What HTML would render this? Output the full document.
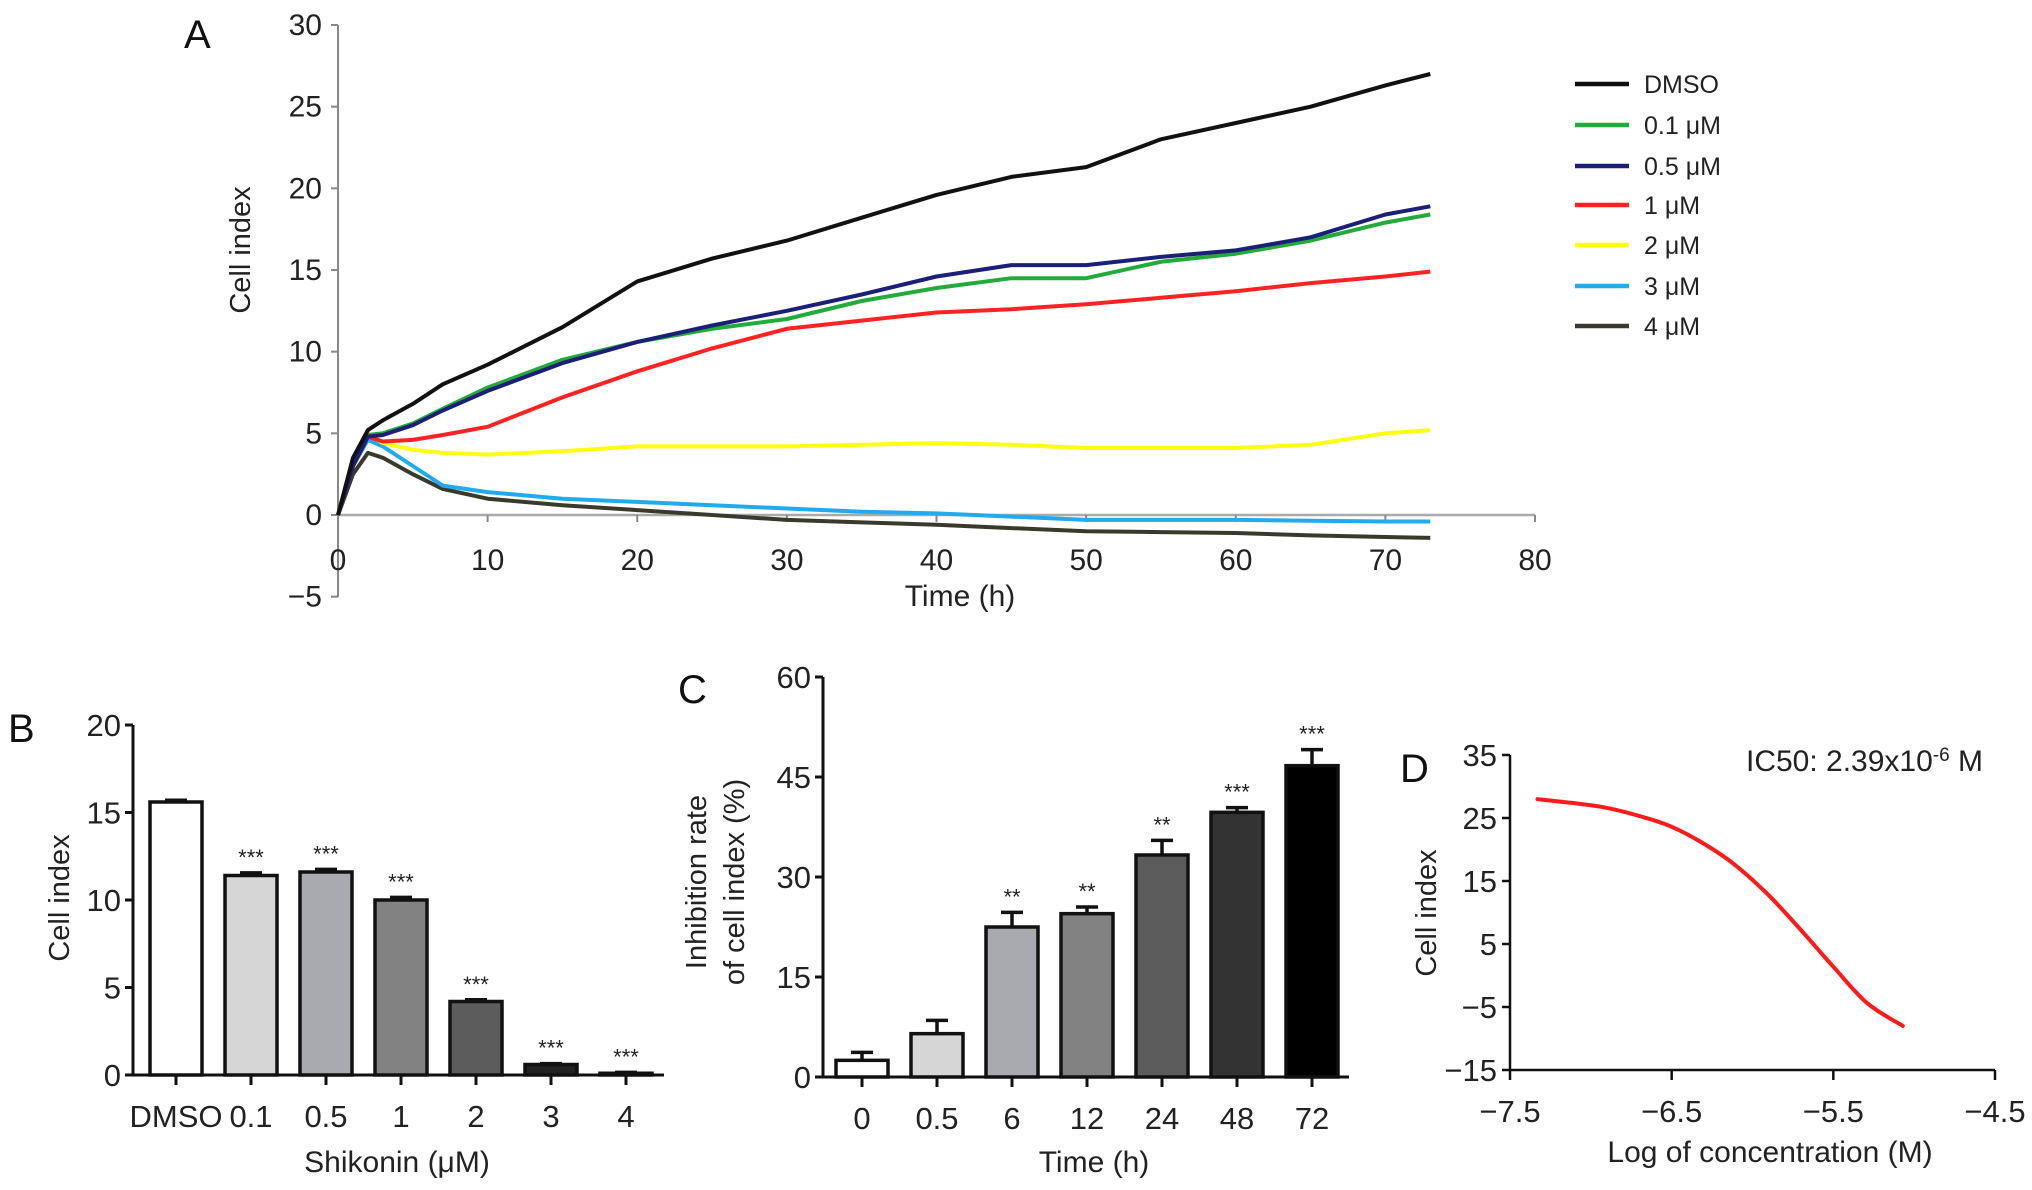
<!DOCTYPE html>
<html><head><meta charset="utf-8"><style>
html,body{margin:0;padding:0;background:#fff;}
svg{display:block;font-family:"Liberation Sans Narrow","Liberation Sans",sans-serif;}
.arial{font-family:"Liberation Sans",sans-serif;}
</style></head><body>
<svg id="fig" width="2032" height="1190" viewBox="0 0 2032 1190" xmlns="http://www.w3.org/2000/svg"></svg>
<script>
// ---- Panel A data ----
const timesA = [0,1,2,3,5,7,10,15,20,25,30,35,40,45,50,55,60,65,70,73];
const seriesNames = ["DMSO","0.1 \u03bcM","0.5 \u03bcM","1 \u03bcM","2 \u03bcM","3 \u03bcM","4 \u03bcM"];
const dmsoVals = [0,3.5,5.2,5.8,6.8,8.0,9.2,11.5,14.3,15.7,16.8,18.2,19.6,20.7,21.3,23.0,24.0,25.0,26.3,27.0];
const v01Vals  = [0,3.2,4.9,5.0,5.6,6.5,7.8,9.5,10.6,11.4,12.0,13.1,13.9,14.5,14.5,15.5,16.0,16.8,17.9,18.4];
const v05Vals  = [0,3.0,4.8,4.9,5.5,6.4,7.6,9.3,10.6,11.6,12.5,13.5,14.6,15.3,15.3,15.8,16.2,17.0,18.4,18.9];
const v1Vals   = [0,3.0,4.8,4.5,4.6,4.9,5.4,7.2,8.8,10.2,11.4,11.9,12.4,12.6,12.9,13.3,13.7,14.2,14.6,14.9];
const v2Vals   = [0,3.2,5.0,4.4,4.0,3.8,3.7,3.9,4.2,4.2,4.2,4.3,4.4,4.3,4.1,4.1,4.1,4.3,5.0,5.2];
const v3Vals   = [0,3.0,4.6,4.2,3.0,1.8,1.4,1.0,0.8,0.6,0.4,0.2,0.1,-0.1,-0.3,-0.3,-0.3,-0.35,-0.4,-0.4];
const v4Vals   = [0,2.5,3.8,3.5,2.5,1.6,1.0,0.6,0.3,0.0,-0.3,-0.45,-0.6,-0.8,-1.0,-1.05,-1.1,-1.25,-1.35,-1.4];
const seriesColors = ["#111111","#22aa3a","#1c1f78","#ff2222","#ffff10","#22aaee","#3a3a2c"];
const xTicksA = [0,10,20,30,40,50,60,70,80];
const yTicksA = [-5,0,5,10,15,20,25,30];
// ---- Panel B data ----
const catsB = ["DMSO","0.1","0.5","1","2","3","4"];
const valsB = [15.6,11.4,11.6,10.0,4.2,0.6,0.1];
const errB = [0.1,0.15,0.15,0.15,0.1,0.05,0.05];
const starsB = ["","***","***","***","***","***","***"];
const fillsB = ["#ffffff","#d6d6d6","#a9a9b0","#828282","#5c5c5c","#222222","#000000"];
const yTicksB = [0,5,10,15,20];
// ---- Panel C data ----
const catsC = ["0","0.5","6","12","24","48","72"];
const valsC = [2.5,6.5,22.5,24.5,33.3,39.7,46.7];
const errC = [1.2,2.0,2.2,1.0,2.2,0.7,2.4];
const starsC = ["","","**","**","**","***","***"];
const fillsC = ["#ffffff","#d6d6d6","#a9a9b0","#828282","#5c5c5c","#333333","#000000"];
const yTicksC = [0,15,30,45,60];
// ---- Panel D data ----
const logConc = [-7.33,-6.94,-6.67,-6.5,-6.32,-6.12,-5.91,-5.7,-5.5,-5.29,-5.07];
const ciD = [28.0,26.8,25.1,23.6,21.2,17.8,13.0,7.2,1.4,-4.4,-8.0];
const xTicksD = [-7.5,-6.5,-5.5,-4.5];
const yTicksD = [-15,-5,5,15,25,35];

const NS="http://www.w3.org/2000/svg";
const svg=document.getElementById('fig');
function mk(tag,attrs,parent,text){const e=document.createElementNS(NS,tag);for(const k in attrs)e.setAttribute(k,attrs[k]);if(text!==undefined)e.textContent=text;(parent||svg).appendChild(e);return e;}
function fmt(v){return v<0?"\u2212"+Math.abs(v):String(v);}
function smooth(pts){let d='M'+pts[0][0].toFixed(1)+','+pts[0][1].toFixed(1);
 for(let i=0;i<pts.length-1;i++){const p0=pts[i-1]||pts[i],p1=pts[i],p2=pts[i+1],p3=pts[i+2]||p2;
  const c1=[p1[0]+(p2[0]-p0[0])/6,p1[1]+(p2[1]-p0[1])/6],c2=[p2[0]-(p3[0]-p1[0])/6,p2[1]-(p3[1]-p1[1])/6];
  d+=' C'+c1[0].toFixed(1)+','+c1[1].toFixed(1)+' '+c2[0].toFixed(1)+','+c2[1].toFixed(1)+' '+p2[0].toFixed(1)+','+p2[1].toFixed(1);}
 return d;}

// ===== Panel A =====
const gA=mk('g',{});  
const xA=t=>338+(t-0)/80*(1535-338);
const yA=v=>515-(v-0)/30*(515-25);
let l=mk('line',{x1:338,y1:25,x2:338,y2:597,stroke:'#888','stroke-width':2},gA);
 
l=mk('line',{x1:338,y1:515,x2:1535,y2:515,stroke:'#aaa','stroke-width':2.5},gA);
 
yTicksA.forEach(v=>{mk('line',{x1:331,y1:yA(v),x2:338,y2:yA(v),stroke:'#888','stroke-width':2},gA);
 const t=mk('text',{x:322,y:yA(v)+10,'text-anchor':'end','font-size':30,fill:'#222'},gA,fmt(v));
  });
xTicksA.forEach(v=>{mk('line',{x1:xA(v),y1:515,x2:xA(v),y2:522,stroke:'#888','stroke-width':2},gA);
 const t=mk('text',{x:xA(v),y:570,'text-anchor':'middle','font-size':30,fill:'#222'},gA,String(v));
  });
let tt=mk('text',{x:960,y:606,'text-anchor':'middle','font-size':30,fill:'#222'},gA,'Time (h)');
 
tt=mk('text',{x:0,y:0,'text-anchor':'middle','font-size':29,fill:'#222',class:'arial',transform:'translate(250,250) rotate(-90)'},gA,'Cell index');
 
tt=mk('text',{x:184,y:48,'font-size':40,fill:'#111',class:'arial'},gA,'A');
 
const allSeries=[dmsoVals,v01Vals,v05Vals,v1Vals,v2Vals,v3Vals,v4Vals];
[6,5,4,3,1,2,0].forEach(i=>{
 const d=allSeries[i].map((v,j)=>(j?'L':'M')+xA(timesA[j]).toFixed(1)+','+yA(v).toFixed(1)).join(' ');
 const p=mk('path',{d:d,fill:'none',stroke:seriesColors[i],'stroke-width':4,'stroke-linejoin':'round'},gA);
 
 
});
const legY=[84,125,166,205,245,286,326];
seriesNames.forEach((n,i)=>{
 const g=mk('g',{},gA);  
 mk('line',{x1:1575,y1:legY[i],x2:1629,y2:legY[i],stroke:seriesColors[i],'stroke-width':4.5},g);
 mk('text',{x:1644,y:legY[i]+9,'font-size':25,fill:'#222',class:'arial'},g,n);
});

// ===== Bar panel helper =====
function barPanel(o){
 const g=mk('g',{});  
 const y=v=>o.y0-(v-o.ymin)/(o.ymax-o.ymin)*(o.y0-o.y1);
 let a=mk('line',{x1:o.ax,y1:o.y1,x2:o.ax,y2:o.y0,stroke:'#111','stroke-width':3},g);
  
 a=mk('line',{x1:o.ax,y1:o.y0,x2:o.xend,y2:o.y0,stroke:'#111','stroke-width':3},g);
  
 o.yt.forEach(v=>{mk('line',{x1:o.ax-8,y1:y(v),x2:o.ax,y2:y(v),stroke:'#111','stroke-width':3},g);
  const t=mk('text',{x:o.ax-12,y:y(v)+11,'text-anchor':'end','font-size':31,fill:'#222'},g,String(v));
   });
 o.cats.forEach((c,i)=>{
  const cx=o.c0+i*o.step, w=52;
  const r=mk('rect',{x:cx-w/2,y:y(o.vals[i]),width:w,height:Math.max(o.y0-y(o.vals[i]),1),fill:o.fills[i],stroke:'#111','stroke-width':3.5},g);
   
  const top=y(o.vals[i]+o.err[i]);
  mk('line',{x1:cx,y1:y(o.vals[i]),x2:cx,y2:top,stroke:'#111','stroke-width':3.5},g);
  mk('line',{x1:cx-11,y1:top,x2:cx+11,y2:top,stroke:'#111','stroke-width':3.5},g);
  if(o.stars[i]){const s=mk('text',{x:cx,y:top-8,'text-anchor':'middle','font-size':22,fill:'#222',class:'arial'},g,o.stars[i]);
    }
  mk('line',{x1:cx,y1:o.y0,x2:cx,y2:o.y0+10,stroke:'#111','stroke-width':3},g);
  const t=mk('text',{x:cx,y:o.y0+52,'text-anchor':'middle','font-size':31,fill:'#222'},g,c);
   
 });
 return g;
}
barPanel({name:'panel-b-bar-chart',ax:133,y0:1075,y1:725,ymin:0,ymax:20,xend:664,c0:176,step:75,cats:catsB,vals:valsB,err:errB,stars:starsB,fills:fillsB,yt:yTicksB});
barPanel({name:'panel-c-bar-chart',ax:823,y0:1077,y1:677,ymin:0,ymax:60,xend:1349,c0:862,step:75,cats:catsC,vals:valsC,err:errC,stars:starsC,fills:fillsC,yt:yTicksC});
tt=mk('text',{x:8,y:742,'font-size':40,fill:'#111',class:'arial'},svg,'B');  
tt=mk('text',{x:678,y:703,'font-size':40,fill:'#111',class:'arial'},svg,'C');  
tt=mk('text',{x:397,y:1172,'text-anchor':'middle','font-size':30,fill:'#222'},svg,'Shikonin (\u03bcM)');  
tt=mk('text',{x:0,y:0,'text-anchor':'middle','font-size':29,fill:'#222',class:'arial',transform:'translate(69,898) rotate(-90)'},svg,'Cell index');  
tt=mk('text',{x:1094,y:1172,'text-anchor':'middle','font-size':30,fill:'#222'},svg,'Time (h)');  
tt=mk('text',{x:0,y:0,'text-anchor':'middle','font-size':29,fill:'#222',class:'arial',transform:'translate(706,882) rotate(-90)'},svg,'Inhibition rate');  
tt=mk('text',{x:0,y:0,'text-anchor':'middle','font-size':29,fill:'#222',class:'arial',transform:'translate(744,882) rotate(-90)'},svg,'of cell index (%)');  

// ===== Panel D =====
const gD=mk('g',{});  
const xD=v=>1510+(v+7.5)/3*(1995-1510);
const yD=v=>1070-(v+15)/50*(1070-755);
l=mk('line',{x1:1510,y1:755,x2:1510,y2:1070,stroke:'#111','stroke-width':2.5},gD);  
l=mk('line',{x1:1510,y1:1070,x2:1995,y2:1070,stroke:'#111','stroke-width':2.5},gD);  
yTicksD.forEach(v=>{mk('line',{x1:1502,y1:yD(v),x2:1510,y2:yD(v),stroke:'#111','stroke-width':2.5},gD);
 const t=mk('text',{x:1497,y:yD(v)+11,'text-anchor':'end','font-size':31,fill:'#222'},gD,fmt(v));
  });
xTicksD.forEach(v=>{mk('line',{x1:xD(v),y1:1070,x2:xD(v),y2:1080,stroke:'#111','stroke-width':2.5},gD);
 const t=mk('text',{x:xD(v),y:1122,'text-anchor':'middle','font-size':31,fill:'#222'},gD,fmt(v));
  });
const ptsD=logConc.map((v,j)=>[xD(v),yD(ciD[j])]);
l=mk('path',{d:smooth(ptsD),fill:'none',stroke:'#ff1a1a','stroke-width':4,'stroke-linejoin':'round','stroke-linecap':'round'},gD);  
tt=mk('text',{x:1400,y:782,'font-size':40,fill:'#111',class:'arial'},gD,'D');  
tt=mk('text',{x:1770,y:1162,'text-anchor':'middle','font-size':30,fill:'#222'},gD,'Log of concentration (M)');  
tt=mk('text',{x:0,y:0,'text-anchor':'middle','font-size':29,fill:'#222',class:'arial',transform:'translate(1436,913) rotate(-90)'},gD,'Cell index');  
const ic=mk('text',{x:1746,y:771,'font-size':30,fill:'#222'},gD);
 
mk('tspan',{},ic,'IC50: 2.39x10');
mk('tspan',{dy:-10,'font-size':19},ic,'-6');
mk('tspan',{dy:10},ic,' M');
</script>
</body></html>
